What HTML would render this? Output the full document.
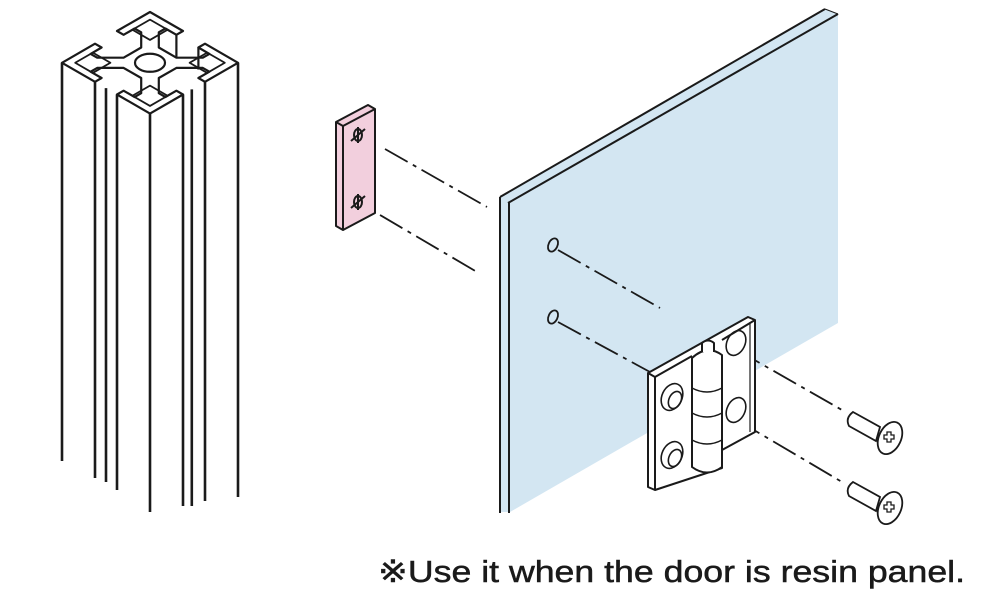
<!DOCTYPE html>
<html><head><meta charset="utf-8"><style>
html,body{margin:0;padding:0;background:#fff;width:1000px;height:600px;overflow:hidden}
svg{display:block}
</style></head><body>
<svg id="s" width="1000" height="600" viewBox="0 0 1000 600" xmlns="http://www.w3.org/2000/svg">
<g id="prof" fill="none" stroke="#1a1a1a" stroke-width="2.2" stroke-linejoin="round"></g>

<!-- panel -->
<polygon points="500,197 825,9 838,14 838,323 510,512 500,512" fill="#d3e6f2"/>
<g stroke="#1a1a1a" stroke-width="2" fill="none">
<line x1="500" y1="197" x2="825" y2="9"/>
<line x1="508" y1="203" x2="838" y2="14"/>
<line x1="500" y1="197" x2="500" y2="513"/>
<line x1="509" y1="203" x2="509" y2="513"/>
<line x1="825" y1="9" x2="838" y2="14" stroke-width="1"/>
</g>
<g fill="none" stroke="#1a1a1a" stroke-width="1.8">
<ellipse cx="553" cy="245" rx="4.5" ry="7" transform="rotate(25 553 245)"/>
<ellipse cx="553" cy="317" rx="4.5" ry="7" transform="rotate(25 553 317)"/>
</g>

<!-- plate -->
<polygon points="336,122 368,105 375,109 375,213 343,230 336,226" fill="#f2cfdd"/>
<g fill="none" stroke="#1a1a1a" stroke-width="2" stroke-linejoin="round">
<polygon points="336,122 368,105 375,109 375,213 343,230 336,226"/>
<polyline points="336,122 343,126 375,109"/>
<line x1="343" y1="126" x2="343" y2="230"/>
</g>
<g stroke="#1a1a1a" stroke-width="2" fill="none">
<ellipse cx="358" cy="135" rx="4" ry="6"/><line x1="351" y1="141" x2="365" y2="129"/><line x1="358" y1="127" x2="358" y2="143"/>
<ellipse cx="358" cy="202" rx="4" ry="6"/><line x1="351" y1="208" x2="365" y2="196"/><line x1="358" y1="194" x2="358" y2="210"/>
</g>

<!-- dash-dot lines -->
<g stroke="#1a1a1a" stroke-width="1.8" stroke-dasharray="26,6,4,6" fill="none">
<line x1="385" y1="149" x2="487" y2="207"/>
<line x1="380" y1="215" x2="477" y2="272"/>
<line x1="558" y1="250" x2="660" y2="308"/>
<line x1="558" y1="322" x2="650" y2="372"/>
<line x1="737" y1="350" x2="842" y2="410"/>
<line x1="737" y1="420" x2="842" y2="482"/>
</g>

<!-- hinge -->
<g stroke="#1a1a1a" stroke-width="2" stroke-linejoin="round">
<polygon points="648,373 748,317 755,320 755,432 722,450 722,468 655,490 648,487" fill="#fff"/>
<polyline points="648,373 655,377 692,356" fill="none"/>
<line x1="655" y1="377" x2="655" y2="490" fill="none"/>
<polyline points="722,340 750,323 755,320" fill="none"/>
<line x1="750" y1="323" x2="750" y2="432" fill="none" stroke-width="1.2"/>
<path d="M692,358 L692,467 Q707,478 722,467 L722,355 Q707,344 692,358 Z" fill="#fff"/>
<path d="M702,352 L702,343 Q708,338 714,343 L714,352" fill="#fff"/>
<path d="M692,388 Q707,396 722,388 M692,413 Q707,421 722,413 M692,440 Q707,448 722,440" fill="none" stroke-width="1.5"/>
</g>
<g fill="none" stroke="#1a1a1a" stroke-width="1.6">
<ellipse cx="672" cy="397" rx="10" ry="14" transform="rotate(25 672 397)"/>
<ellipse cx="675" cy="400" rx="6" ry="9" transform="rotate(25 675 400)"/>
<ellipse cx="672" cy="455" rx="10" ry="14" transform="rotate(25 672 455)"/>
<ellipse cx="675" cy="458" rx="6" ry="9" transform="rotate(25 675 458)"/>
<ellipse cx="736" cy="343" rx="9" ry="13" transform="rotate(25 736 343)"/>
<ellipse cx="736" cy="410" rx="9" ry="13" transform="rotate(25 736 410)"/>
</g>

<!-- screws -->
<g stroke="#1a1a1a" stroke-width="1.8" fill="#fff">
<path d="M853,412 L880,427 L876,441 L849,426 Q845,418 853,412 Z"/>
<ellipse cx="890" cy="438" rx="11" ry="17" transform="rotate(25 890 438)"/>
<path d="M887,432 l4,0 l0,3 l3,0 l0,4 l-3,0 l0,3 l-4,0 l0,-3 l-3,0 l0,-4 l3,0z" fill="none" stroke-width="1.3"/>
<path d="M853,482 L880,497 L876,511 L849,496 Q845,488 853,482 Z"/>
<ellipse cx="890" cy="508" rx="11" ry="17" transform="rotate(25 890 508)"/>
<path d="M887,502 l4,0 l0,3 l3,0 l0,4 l-3,0 l0,3 l-4,0 l0,-3 l-3,0 l0,-4 l3,0z" fill="none" stroke-width="1.3"/>
</g>

<text x="378" y="582" font-family="Liberation Sans, DejaVu Sans, sans-serif" font-size="31" fill="#1a1a1a" stroke="#1a1a1a" stroke-width="0.5" textLength="587" lengthAdjust="spacingAndGlyphs">※Use it when the door is resin panel.</text>
</svg>
<script>
(function(){
var g=document.getElementById('prof');
function P(u,v){return [150+(u-v)*2.2, 12+(u+v)*2.2*0.577];}
// one side template along u (0..40) with depth d inward
var side=[[0,0],[15,0],[15,3],[10,3],[10,6],[16,12],[24,12],[30,6],[30,3],[25,3],[25,0]];
var pts=[];
// side v=0 : (t,d)->(u=t,v=d)
side.forEach(function(p){pts.push([p[0],p[1]]);});
// side u=40: (t,d)->(u=40-d,v=t)
side.forEach(function(p){pts.push([40-p[1],p[0]]);});
// side v=40: (t,d)->(u=40-t,v=40-d)
side.forEach(function(p){pts.push([40-p[0],40-p[1]]);});
// side u=0: (t,d)->(u=d,v=40-t)
side.forEach(function(p){pts.push([p[1],40-p[0]]);});
var d='M'+pts.map(function(p){var q=P(p[0],p[1]);return q[0].toFixed(1)+','+q[1].toFixed(1);}).join(' L')+' Z';
var ns='http://www.w3.org/2000/svg';
var pa=document.createElementNS(ns,'path');pa.setAttribute('d',d);g.appendChild(pa);
// corner holes
[[3,3],[29,3],[29,29],[3,29]].forEach(function(c){
 var q=[P(c[0],c[1]),P(c[0]+8,c[1]),P(c[0]+8,c[1]+8),P(c[0],c[1]+8)];
 var e=document.createElementNS(ns,'polygon');
 e.setAttribute('points',q.map(function(x){return x[0]+','+x[1];}).join(' '));
 e.setAttribute('stroke-width','1.8');g.appendChild(e);
});
var c=P(20,20);
var el=document.createElementNS(ns,'ellipse');
el.setAttribute('cx',c[0]);el.setAttribute('cy',c[1]);el.setAttribute('rx',15);el.setAttribute('ry',9);g.appendChild(el);
// verticals
var vs=[[0,40,461],[15,40,478],[20,40,482],[25,40,490],[40,40,512],[40,25,506],[40,21,506],[40,15,501],[40,0,497]];
vs.forEach(function(v){var q=P(v[0],v[1]);
 var l=document.createElementNS(ns,'line');
 l.setAttribute('x1',q[0]);l.setAttribute('y1',q[1]);l.setAttribute('x2',q[0]);l.setAttribute('y2',v[2]);
 l.setAttribute('stroke-width','2.6');g.appendChild(l);});
// back lug verticals
[[15,0],[25,0]].forEach(function(v){var q=P(v[0],v[1]+3);
 var l=document.createElementNS(ns,'line');
 l.setAttribute('x1',q[0]);l.setAttribute('y1',q[1]);l.setAttribute('x2',q[0]);l.setAttribute('y2',q[1]+22);
 g.appendChild(l);});
})();
</script>
</body></html>
